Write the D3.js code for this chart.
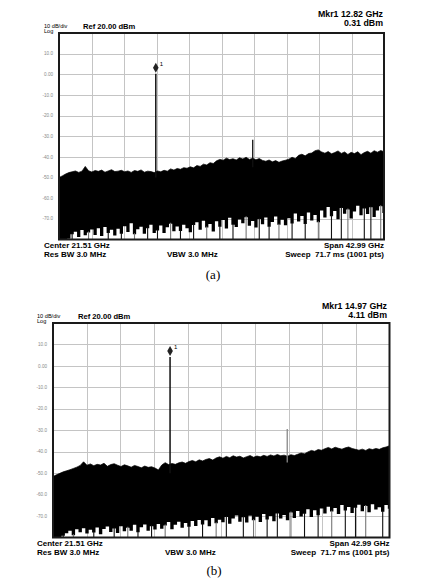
<!DOCTYPE html>
<meta charset="utf-8">
<style>
body { margin: 0; background: #fff; }
svg { display: block; }
.hdr { font-family: "Liberation Sans", Arial, sans-serif; fill: #000; }
.bold { font-weight: bold; }
.ytick { font-family: "Liberation Sans", Arial, sans-serif; font-size: 4.6px; fill: #888; }
.grid line { stroke: #c4c4c4; stroke-width: 1; shape-rendering: crispEdges; }
.cap { font-family: "Liberation Serif", "Times New Roman", serif; font-size: 13px; }
</style>
<svg width="422" height="583"></svg>
<script src="https://d3js.org/d3.v7.min.js"></script>
<script>

// analyzer settings (both sweeps)
var refLevel = 20, dbPerDiv = 10, divisions = 10;
var centerGHz = 21.51, spanGHz = 42.99;
var yTickLabels = ["10.0", "0.00", "-10.0", "-20.0", "-30.0", "-40.0", "-50.0", "-60.0", "-70.0"];

// sweep (a): trace max / min envelope, 100 samples across the span, dBm
var upperA = [
  -50.0, -49.2, -48.3, -47.6, -47.2, -46.8, -47.5, -46.9, -44.6, -46.7,
  -47.3, -46.6, -47.0, -46.4, -47.4, -46.8, -46.2, -47.1, -46.9, -46.5,
  -47.2, -46.8, -47.5, -46.6, -47.0, -46.3, -47.4, -46.9, -47.1, -47.6,
  -46.8, -47.2, -46.5, -46.9, -45.8, -46.4, -45.6, -46.0, -45.2, -45.5,
  -44.8, -45.3, -44.2, -44.6, -43.5, -43.9, -42.8, -43.2, -41.9, -41.2,
  -41.6, -40.6, -41.3, -40.9, -41.5, -40.4, -41.0, -40.2, -41.2, -40.7,
  -41.4, -40.8, -41.7, -42.1, -41.5, -42.4, -41.8, -42.6, -42.0, -41.6,
  -41.1, -40.2, -40.8, -39.2, -38.7, -39.5, -38.4, -38.1, -37.0, -36.6,
  -37.6, -38.2, -37.4, -38.5, -37.9, -37.1, -38.3, -37.6, -38.8, -37.8,
  -38.4, -37.5, -38.9, -37.9, -37.3, -38.2, -37.0, -37.7, -36.9, -37.5
];
var lowerA = [
  -80.0, -80.0, -80.0, -79.6, -77.5, -76.2, -78.8, -75.4, -77.9, -76.6,
  -75.2, -77.8, -74.6, -78.3, -73.9, -76.9, -75.3, -78.1, -74.8, -77.2,
  -73.6, -76.4, -72.1, -77.5, -75.0, -73.8, -77.2, -74.5, -72.9, -76.8,
  -75.7, -73.2, -76.9, -74.1, -72.4, -76.0, -73.7, -75.9, -72.8, -74.6,
  -76.5, -73.0, -71.6, -75.3, -70.9, -74.2, -72.5, -76.1, -71.2, -73.8,
  -70.6, -74.7, -69.5, -72.8, -73.9, -70.3, -72.1, -69.2, -73.4, -71.0,
  -74.2, -70.1, -72.6, -69.4, -73.8, -71.5, -68.9, -72.9, -70.4, -73.1,
  -69.7, -72.2, -67.4, -71.3, -68.6, -72.5, -66.9, -70.8, -68.1, -71.6,
  -65.9, -69.4, -64.3, -68.7, -66.2, -70.2, -64.8, -67.5, -65.5, -69.8,
  -66.4, -63.6, -68.3, -65.0, -67.7, -64.4, -69.1, -66.0, -63.9, -67.2
];
// samples whose minimum drops to the bottom of the screen
var dropsA = [4, 9, 15, 19, 23, 27, 30, 34, 37, 41, 45, 49, 53, 57, 61, 64, 67, 71, 75, 79, 83, 86, 88, 93, 95, 98];
var markerA = { ghz: 12.82, dbm: 0.31 };
var spurA = { ghz: 25.64, dbm: -31.7 };

// sweep (b)
var upperB = [
  -51.6, -50.8, -50.1, -49.4, -48.9, -48.4, -47.8, -47.2, -46.4, -44.7,
  -46.3, -45.7, -46.5, -45.9, -46.2, -45.4, -46.8, -46.0, -45.6, -46.3,
  -46.9, -46.1, -46.6, -47.2, -46.4, -46.9, -47.5, -46.7, -47.3, -47.0,
  -47.6, -48.5, -46.2, -45.1, -46.0, -45.5, -45.9, -45.2, -44.8, -45.4,
  -44.6, -44.1, -44.7, -43.8, -44.3, -43.6, -43.2, -43.9, -42.9, -42.4,
  -43.0, -42.2, -42.8, -41.9, -42.5, -42.1, -42.9, -42.3, -41.8, -42.6,
  -42.0, -42.4, -41.7, -42.2, -41.5, -42.0, -41.3, -41.9, -41.6, -42.1,
  -41.4, -41.8, -41.2, -40.6, -41.0, -40.1, -39.4, -39.8, -39.0, -39.3,
  -38.6, -38.0, -38.7, -37.9, -38.4, -38.8, -38.2, -37.8, -38.5, -38.9,
  -39.3, -38.8, -39.4, -38.6, -39.0, -38.5, -38.9, -38.2, -37.8, -37.2
];
var lowerB = [
  -80.0, -80.0, -80.0, -79.2, -78.0, -76.8, -78.9, -76.1, -77.6, -75.7,
  -78.1, -76.4, -77.7, -75.3, -78.5, -76.0, -74.9, -77.4, -75.8, -77.9,
  -74.7, -77.1, -75.5, -76.9, -74.1, -77.6, -75.2, -73.9, -76.8, -74.8,
  -76.3, -73.7, -75.9, -74.4, -72.8, -76.2, -74.0, -72.6, -75.5, -73.2,
  -75.0, -72.3, -74.6, -71.8, -73.9, -72.0, -74.8, -70.9, -73.3, -71.7,
  -72.9, -70.4, -73.6, -71.2, -69.8, -72.7, -70.6, -73.0, -69.9, -71.9,
  -70.3, -72.8, -69.1, -71.6, -70.0, -72.4, -68.8, -71.1, -69.5, -72.0,
  -68.4, -70.9, -67.6, -70.2, -68.9, -66.8, -70.4, -67.3, -69.6, -66.5,
  -68.8, -65.7, -67.9, -66.3, -69.1, -64.9, -67.4, -65.8, -68.6, -66.1,
  -64.7, -67.8, -65.3, -68.2, -64.5, -66.9, -65.9, -68.0, -64.8, -66.6
];
var dropsB = [3, 6, 12, 18, 22, 25, 29, 33, 40, 44, 48, 51, 56, 59, 63, 66, 70, 74, 78, 82, 86, 89, 92, 97];
var markerB = { ghz: 14.97, dbm: 4.11 };
var spurB = { ghz: 29.94, dbm: -29.4 };

var svg = d3.select("svg");

function drawPanel(p) {
  var x = d3.scaleLinear()
      .domain([centerGHz - spanGHz / 2, centerGHz + spanGHz / 2])
      .range([p.left, p.right]);
  var y = d3.scaleLinear()
      .domain([refLevel - dbPerDiv * divisions, refLevel])
      .range([p.bottom, p.top]);

  var g = svg.append("g");
  var step = spanGHz / (p.upper.length - 1);
  var pts = p.upper.map(function(u, i) {
    return { f: x.domain()[0] + i * step, hi: u, lo: p.lower[i] };
  });

  // grid
  var grid = g.append("g").attr("class", "grid");
  grid.selectAll(".v").data(d3.range(1, divisions)).enter().append("line")
      .attr("x1", function(i) { return Math.round(p.left + i * (p.right - p.left) / divisions) + 0.5; })
      .attr("x2", function(i) { return Math.round(p.left + i * (p.right - p.left) / divisions) + 0.5; })
      .attr("y1", p.top).attr("y2", p.bottom);
  grid.selectAll(".h").data(d3.range(1, divisions)).enter().append("line")
      .attr("y1", function(i) { return Math.round(y(refLevel - i * dbPerDiv)) + 0.5; })
      .attr("y2", function(i) { return Math.round(y(refLevel - i * dbPerDiv)) + 0.5; })
      .attr("x1", p.left).attr("x2", p.right);

  // y tick labels
  g.selectAll(".ytick").data(yTickLabels).enter().append("text")
      .attr("class", "ytick")
      .attr("x", p.left - 6)
      .attr("y", function(d) { return y(+d) + 1.6; })
      .attr("text-anchor", "end")
      .text(function(d) { return d; });

  var clipId = "clip" + p.id;
  svg.append("clipPath").attr("id", clipId).append("rect")
      .attr("x", p.left).attr("y", p.top)
      .attr("width", p.right - p.left).attr("height", p.bottom - p.top);

  var tr = g.append("g").attr("clip-path", "url(#" + clipId + ")");

  // noise trace: upper edge (max hold of each bucket)
  tr.append("path")
      .datum(pts)
      .attr("fill", "#000")
      .attr("stroke", "#000").attr("stroke-width", 0.7)
      .attr("d", d3.area()
        .x(function(d) { return x(d.f); })
        .y0(y(-60))
        .y1(function(d) { return y(d.hi); }));

  // lower edge (min of each bucket)
  tr.append("path")
      .datum(pts)
      .attr("fill", "#000")
      .attr("d", d3.area()
        .curve(d3.curveStep)
        .x(function(d) { return x(d.f); })
        .y0(function(d) { return y(d.lo); })
        .y1(y(-58)));

  // dropouts to the bottom of the screen
  tr.selectAll(".drop").data(p.drops).enter().append("line")
      .attr("x1", function(i) { return x(pts[i].f); })
      .attr("x2", function(i) { return x(pts[i].f); })
      .attr("y1", function(i) { return y(pts[i].lo) - 1; })
      .attr("y2", p.bottom)
      .attr("stroke", function(i, k) { return k % 3 === 1 ? "#777" : "#111"; })
      .attr("stroke-width", 1.1);

  // spur
  tr.append("line")
      .attr("x1", x(p.spur.ghz)).attr("x2", x(p.spur.ghz))
      .attr("y1", y(-45)).attr("y2", y(p.spur.dbm))
      .attr("stroke", p.spurColor).attr("stroke-width", 1.3);

  // carrier
  tr.append("line")
      .attr("x1", x(p.marker.ghz)).attr("x2", x(p.marker.ghz))
      .attr("y1", y(-50)).attr("y2", y(p.marker.dbm))
      .attr("stroke", "#111").attr("stroke-width", 1.5);

  // marker diamond sitting on the peak
  var mx = x(p.marker.ghz), my = y(p.marker.dbm);
  g.append("path")
      .attr("d", "M" + mx + "," + (my - 11) + "L" + (mx + 2.8) + "," + (my - 6) +
                 "L" + mx + "," + (my - 1) + "L" + (mx - 2.8) + "," + (my - 6) + "Z")
      .attr("fill", "#222");
  g.append("text").attr("class", "hdr")
      .attr("x", mx + 4).attr("y", my - 8)
      .style("font-size", "6px")
      .text("1");

  // frame
  g.append("rect")
      .attr("x", p.left).attr("y", p.top)
      .attr("width", p.right - p.left).attr("height", p.bottom - p.top)
      .attr("fill", "none").attr("stroke", "#1a1a1a").attr("stroke-width", 2);

  // header text
  g.append("text").attr("class", "hdr").attr("x", p.left - p.hdrIndent).attr("y", p.top - 5)
      .style("font-size", "5.6px").text("10 dB/div");
  g.append("text").attr("class", "hdr").attr("x", p.left - p.hdrIndent).attr("y", p.top)
      .style("font-size", "5.6px").text("Log");
  g.append("text").attr("class", "hdr bold").attr("x", p.left + p.refIndent).attr("y", p.top - 4)
      .style("font-size", "7.6px").text("Ref " + refLevel.toFixed(2) + " dBm");
  g.append("text").attr("class", "hdr bold").attr("x", p.mkrRight).attr("y", p.top - p.mkrUp)
      .attr("text-anchor", "end").style("font-size", "8.8px")
      .text("Mkr1 " + p.marker.ghz.toFixed(2) + " GHz");
  g.append("text").attr("class", "hdr bold").attr("x", p.mkrRight).attr("y", p.top - p.mkrUp + 9)
      .attr("text-anchor", "end").style("font-size", "8.8px")
      .text(p.marker.dbm.toFixed(2) + " dBm");

  // footer text
  var fs = "8px";
  g.append("text").attr("class", "hdr bold").attr("x", p.left - p.hdrIndent).attr("y", p.bottom + 8)
      .style("font-size", fs).text("Center " + centerGHz.toFixed(2) + " GHz");
  g.append("text").attr("class", "hdr bold").attr("x", p.left - p.hdrIndent).attr("y", p.bottom + 17.5)
      .style("font-size", fs).text("Res BW 3.0 MHz");
  g.append("text").attr("class", "hdr bold").attr("x", p.left + p.vbwIndent).attr("y", p.bottom + 17.5)
      .style("font-size", fs).text("VBW 3.0 MHz");
  g.append("text").attr("class", "hdr bold").attr("x", p.right).attr("y", p.bottom + 8)
      .attr("text-anchor", "end").style("font-size", fs).text("Span " + spanGHz.toFixed(2) + " GHz");
  g.append("text").attr("class", "hdr bold").attr("x", p.right).attr("y", p.bottom + 17.5)
      .attr("text-anchor", "end").style("font-size", fs).style("white-space", "pre")
      .text("Sweep  71.7 ms (1001 pts)");

  g.append("text").attr("class", "cap")
      .attr("x", p.capX).attr("y", p.capY)
      .attr("text-anchor", "middle").text(p.caption);
}

drawPanel({
  id: "a", left: 59, right: 384, top: 33, bottom: 239.5,
  upper: upperA, lower: lowerA, drops: dropsA, marker: markerA, spur: spurA, spurColor: "#111",
  hdrIndent: 15, refIndent: 24, mkrRight: 383, mkrUp: 16, vbwIndent: 108,
  caption: "(a)", capX: 213, capY: 279
});

drawPanel({
  id: "b", left: 53, right: 389.5, top: 323, bottom: 537.5,
  upper: upperB, lower: lowerB, drops: dropsB, marker: markerB, spur: spurB, spurColor: "#888",
  hdrIndent: 16, refIndent: 25, mkrRight: 387, mkrUp: 14.3, vbwIndent: 112,
  caption: "(b)", capX: 214, capY: 575
});

</script>
